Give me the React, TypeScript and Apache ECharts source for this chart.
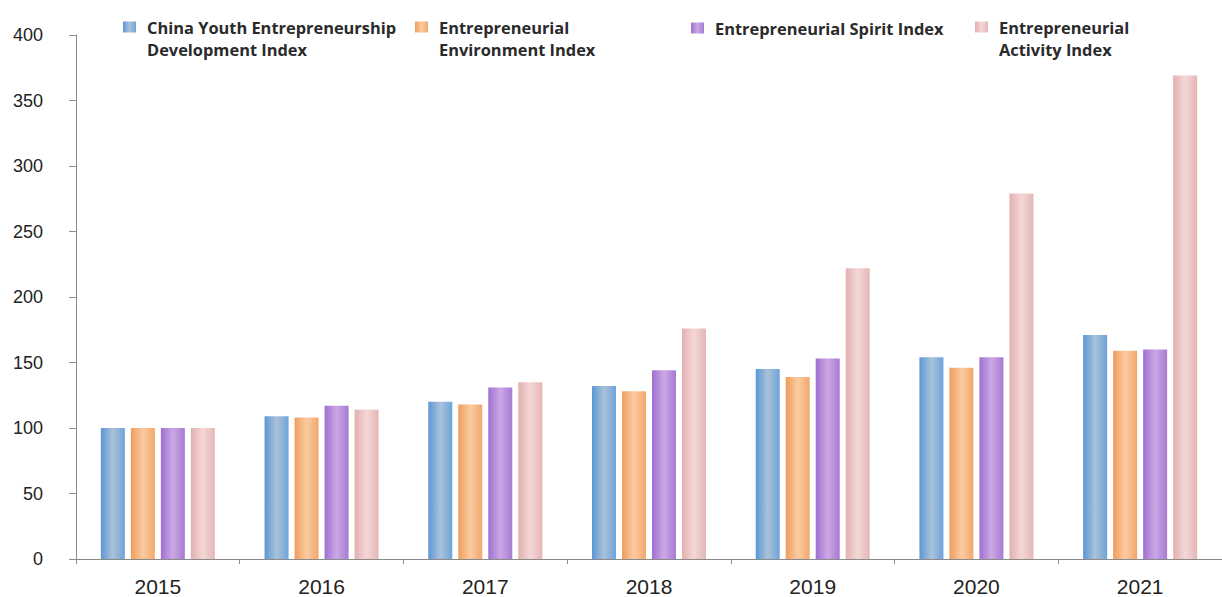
import React, { useEffect, useRef } from "react";
import * as echarts from "echarts";

const years = ["2015", "2016", "2017", "2018", "2019", "2020", "2021"];
const youthIndex = [100, 109, 120, 132, 145, 154, 171];
const environmentIndex = [100, 108, 118, 128, 139, 146, 159];
const spiritIndex = [100, 117, 131, 144, 153, 154, 160];
const activityIndex = [100, 114, 135, 176, 222, 279, 369];

const seriesNames = [
  "China Youth Entrepreneurship Development Index",
  "Entrepreneurial Environment Index",
  "Entrepreneurial Spirit Index",
  "Entrepreneurial Activity Index",
];
const legendLabels = [
  "\nChina Youth Entrepreneurship\nDevelopment Index",
  "\nEntrepreneurial\nEnvironment Index",
  "Entrepreneurial Spirit Index",
  "\nEntrepreneurial\nActivity Index",
];

const grad = (edge: string, mid: string, edge2: string) =>
  new echarts.graphic.LinearGradient(0, 0, 1, 0, [
    { offset: 0, color: edge },
    { offset: 0.5, color: mid },
    { offset: 1, color: edge2 },
  ]);

export default function App() {
  const ref = useRef<HTMLDivElement>(null);
  useEffect(() => {
    if (!ref.current) return;
    const chart = echarts.init(ref.current, undefined, { renderer: "svg" });
    const colors = [
      grad("#5b97d6", "#aac2d8", "#6ea3da"),
      grad("#ef9c5c", "#fbcba0", "#f2a86c"),
      grad("#9f6fd0", "#cba8e4", "#a77ad4"),
      grad("#e2b0b0", "#f4d8d6", "#e4b6b6"),
    ];
    const data = [youthIndex, environmentIndex, spiritIndex, activityIndex];
    const legendPos = [
      { left: 123, top: -6 },
      { left: 415, top: -6 },
      { left: 691, top: 17 },
      { left: 975, top: -6 },
    ];
    chart.setOption({
      animation: false,
      backgroundColor: "#ffffff",
      legend: seriesNames.map((n, i) => ({
        data: [n],
        left: legendPos[i].left,
        top: legendPos[i].top,
        padding: 0,
        icon: "rect",
        itemWidth: 13,
        itemHeight: 11,
        selectedMode: false,
        formatter: () => legendLabels[i],
        textStyle: {
          fontFamily: "Open Sans",
          fontWeight: "bold",
          fontSize: 16.4,
          color: "#2a2a2a",
          lineHeight: 22,
          padding: [0, 0, 0, 6],
        },
      })),
      grid: { left: 76, right: -9, top: 35, bottom: 37 },
      xAxis: {
        type: "category",
        data: years,
        axisLine: { lineStyle: { color: "#8a8a8a", width: 1 } },
        axisTick: { show: true, length: 5, lineStyle: { color: "#8a8a8a" } },
        axisLabel: {
          fontFamily: "Liberation Sans",
          fontSize: 21,
          color: "#222",
          margin: 17,
        },
      },
      yAxis: {
        type: "value",
        min: 0,
        max: 400,
        interval: 50,
        splitLine: { show: false },
        axisLine: { show: true, lineStyle: { color: "#8a8a8a", width: 1 } },
        axisTick: { show: true, length: 7, lineStyle: { color: "#8a8a8a" } },
        axisLabel: {
          fontFamily: "Liberation Sans",
          fontSize: 18,
          color: "#222",
          margin: 33,
        },
      },
      series: seriesNames.map((n, i) => ({
        name: n,
        type: "bar",
        data: data[i],
        barWidth: 24,
        barGap: "25%",
        itemStyle: { color: colors[i] },
      })),
    });
    return () => chart.dispose();
  }, []);
  return (
    <div
      ref={ref}
      style={{ position: "absolute", left: 0, top: 0, width: 1222, height: 597 }}
    />
  );
}
